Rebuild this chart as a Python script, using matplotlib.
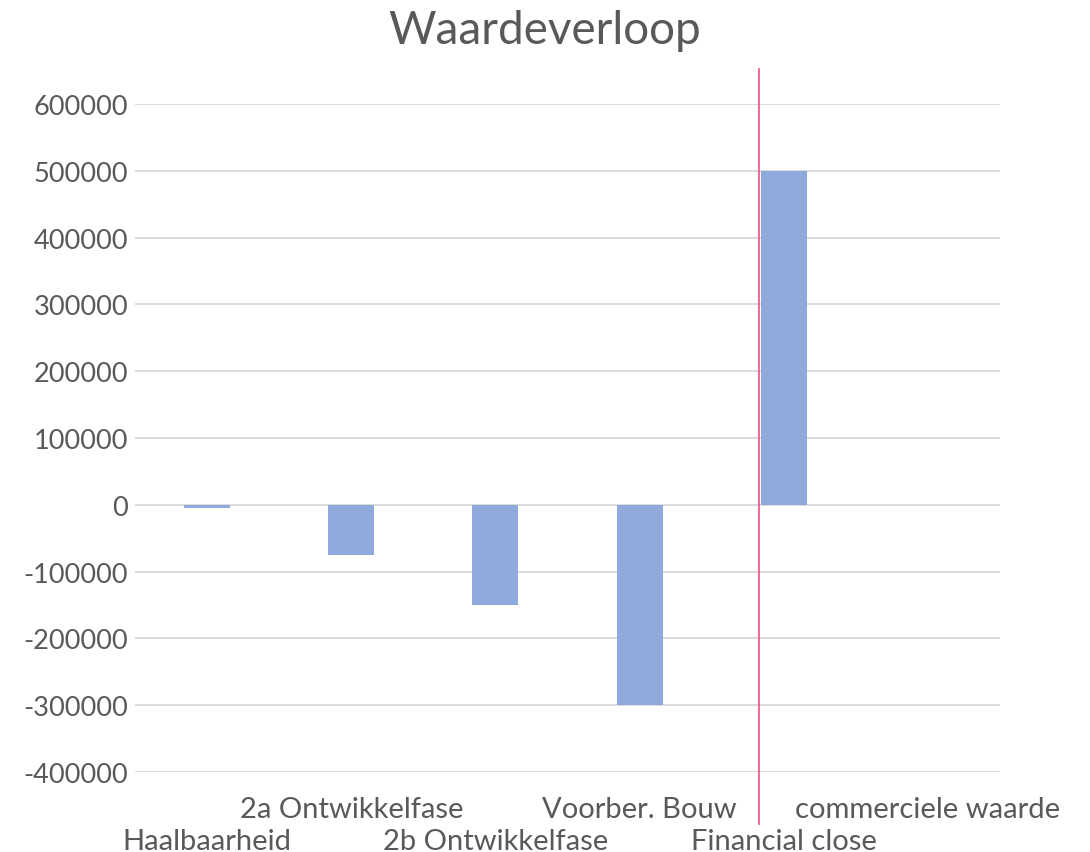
import matplotlib
matplotlib.use("Agg")
import matplotlib.pyplot as plt
from matplotlib.transforms import blended_transform_factory

categories = ["Haalbaarheid", "2a Ontwikkelfase", "2b Ontwikkelfase",
              "Voorber. Bouw", "Financial close", "commerciele waarde"]
values = [-5000, -75000, -150000, -300000, 500000, 0]
yticks = [-400000, -300000, -200000, -100000, 0, 100000, 200000, 300000, 400000, 500000, 600000]

plt.rcParams['font.family'] = ['Lato', 'DejaVu Sans']
text_color = "#595959"

fig = plt.figure(figsize=(10.9, 8.53), dpi=100)
ax = fig.add_axes([135/1090, 80/853, 865/1090, 668/853])

x = list(range(len(categories)))
bar_w = 0.32
ax.bar(x, values, width=bar_w, color="#8FAADC", zorder=3)

ax.set_xlim(-0.5, len(categories) - 0.5)
ax.set_ylim(yticks[0], yticks[-1])
ax.set_yticks(yticks)
ax.set_yticklabels([str(v) for v in yticks], fontsize=19.5, color=text_color)
ax.grid(axis="y", color="#D9D9D9", linewidth=1.3, zorder=0)
ax.tick_params(axis="y", length=0, pad=5)
ax.tick_params(axis="x", length=0)
ax.set_xticks([])
for s in ax.spines.values():
    s.set_visible(False)

trans = blended_transform_factory(ax.transData, ax.transAxes)
for i, lab in enumerate(categories):
    yoff = -0.055 if i % 2 == 1 else -0.103
    ax.text(i, yoff, lab, transform=trans, ha="center", va="center",
            fontsize=21, color=text_color)

# vertical marker line at the left edge of the "Financial close" bar
line_x = 4 - bar_w / 2 - 0.01
ax.plot([line_x, line_x], [-0.078, 1.052], transform=trans, color="#F0508C",
        linewidth=1.2, clip_on=False, zorder=4)

fig.text(0.5, 1 - 31/853, "Waardeverloop", ha="center", va="center",
         fontsize=33, color=text_color)

fig.savefig("out.png", dpi=100)
